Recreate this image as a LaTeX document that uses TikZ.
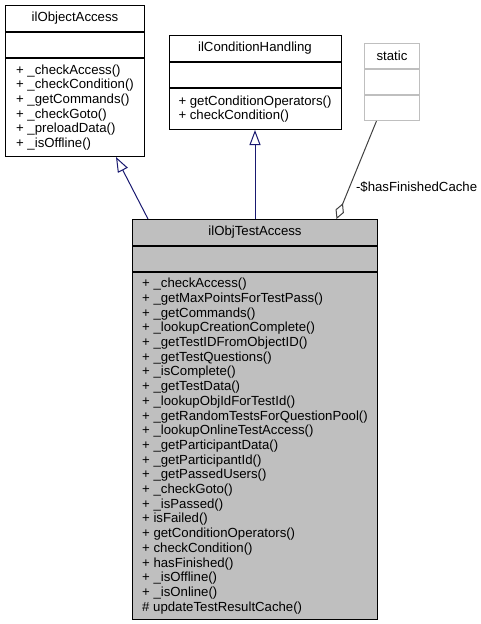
\documentclass[tikz,border=0pt]{standalone}
\usepackage{fontspec}
\setmainfont{Liberation Sans}
\usepackage{tikz}
\usetikzlibrary{positioning,arrows.meta}
\definecolor{classgray}{HTML}{BFBFBF}
\definecolor{staticgray}{HTML}{BFBFBF}
\definecolor{inheritblue}{HTML}{191970}
\definecolor{usagegray}{HTML}{404040}

\begin{document}
\begin{tikzpicture}[
        x=1pt, y=-1pt,
        every node/.style={font=\fontsize{13.2}{14.7}\selectfont},
        classtitle/.style={rectangle, draw, fill=white, line width=1pt, minimum height=26pt, inner sep=0pt},
        compart/.style={rectangle, draw, fill=white, line width=1pt, minimum height=25pt, inner sep=0pt},
        ops/.style={rectangle, draw, fill=white, line width=1pt, inner sep=0pt, align=left},
        inherit/.style={draw=inheritblue, line width=1pt, -{Triangle[fill=white, length=15pt, width=11pt]}},
        aggr/.style={draw=usagegray, line width=1pt, -{Diamond[fill=white, length=17pt, width=9pt]}},
        role/.style={anchor=west, inner sep=0pt, xshift=6pt}
    ]
        \useasboundingbox (0,0) rectangle (480,624);

        % ilObjectAccess
        \node[classtitle, minimum width=139pt, anchor=north west] (objtitle) at (5,5) {ilObjectAccess};
        \node[compart, minimum width=139pt, below=0pt of objtitle] (objattr) {};
        \node[ops, minimum width=139pt, minimum height=98pt, below=0pt of objattr] (objops) {+ \_checkAccess()\\+ \_checkCondition()\\+ \_getCommands()\\+ \_checkGoto()\\+ \_preloadData()\\+ \_isOffline()};

        % ilConditionHandling
        \node[classtitle, minimum width=172pt, anchor=north west] (condtitle) at (168.5,35) {ilConditionHandling};
        \node[compart, minimum width=172pt, below=0pt of condtitle] (condattr) {};
        \node[ops, minimum width=172pt, minimum height=41pt, below=0pt of condattr] (condops) {+ getConditionOperators()\\+ checkCondition()};

        % static
        \node[compart, draw=staticgray, minimum width=55pt, anchor=north west] (statictitle) at (364,43) {static};
        \node[compart, draw=staticgray, minimum width=55pt, below=0pt of statictitle] (staticattr) {};
        \node[compart, draw=staticgray, minimum width=55pt, below=0pt of staticattr] (staticops) {};

        % ilObjTestAccess
        \node[classtitle, fill=classgray, minimum width=245pt, anchor=north west] (testtitle) at (132,219) {ilObjTestAccess};
        \node[compart, fill=classgray, minimum width=245pt, below=0pt of testtitle] (testattr) {};
        \node[ops, fill=classgray, minimum width=245pt, minimum height=347pt, below=0pt of testattr] (testops) {+ \_checkAccess()\\+ \_getMaxPointsForTestPass()\\+ \_getCommands()\\+ \_lookupCreationComplete()\\+ \_getTestIDFromObjectID()\\+ \_getTestQuestions()\\+ \_isComplete()\\+ \_getTestData()\\+ \_lookupObjIdForTestId()\\+ \_getRandomTestsForQuestionPool()\\+ \_lookupOnlineTestAccess()\\+ \_getParticipantData()\\+ \_getParticipantId()\\+ \_getPassedUsers()\\+ \_checkGoto()\\+ \_isPassed()\\+ isFailed()\\+ getConditionOperators()\\+ checkCondition()\\+ hasFinished()\\+ \_isOffline()\\+ \_isOnline()\\\# updateTestResultCache()};

        % Inheritance
        \draw[inherit] ([xshift=16pt]testtitle.north west) -- ([xshift=41pt]objops.south);
        \draw[inherit] (testtitle.north) -- (condops.south);

        % Static member
        \draw[aggr] ([xshift=-15.5pt]staticops.south) -- node[role, pos=0.673] {-\$hasFinishedCache} ([xshift=81.5pt]testtitle.north);

    \end{tikzpicture}
\end{document}
